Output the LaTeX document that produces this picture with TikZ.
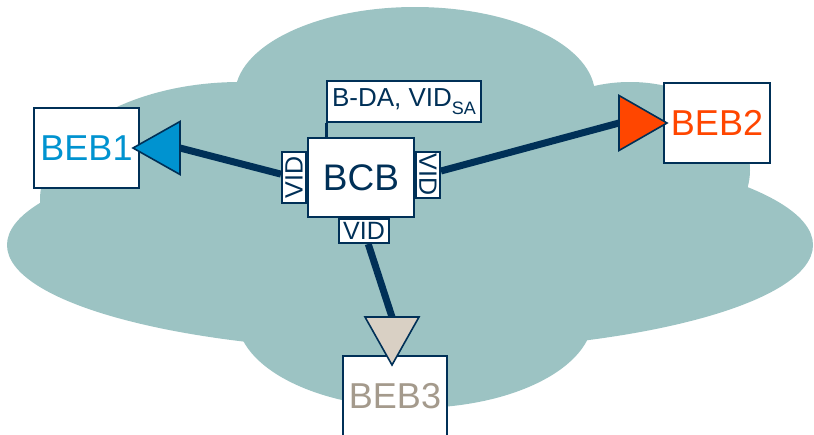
\documentclass[tikz,border=0pt]{standalone}
\usepackage{fontspec}
\setmainfont{Liberation Sans}
\usetikzlibrary{positioning}

\definecolor{navy}{RGB}{0,48,87}
\definecolor{cloudteal}{RGB}{156,195,195}
\definecolor{bebblue}{RGB}{0,147,208}
\definecolor{bebred}{RGB}{255,70,0}
\definecolor{bebgray}{RGB}{164,154,140}
\definecolor{bebsand}{RGB}{217,208,196}

\begin{document}
\begin{tikzpicture}[x=1pt, y=-1pt,
    netbox/.style={draw=navy, line width=2pt, fill=white, inner sep=0pt, text=navy},
    bebbox/.style={netbox, minimum width=105pt, minimum height=80pt, font=\fontsize{36}{36}\selectfont},
    vidbox/.style={netbox, minimum width=51pt, minimum height=24pt, font=\fontsize{25}{25}\selectfont},
    link/.style={draw=navy, line width=7pt},
    tipmark/.style={draw=navy, line width=1.6pt, line join=miter}]

    \useasboundingbox (0,0) rectangle (814,434);

    % --- CLOUD (union of ellipses, no outline) ---
    \fill[cloudteal] (410,245) ellipse [x radius=403, y radius=106]; % main body
    \fill[cloudteal] (415,95)  ellipse [x radius=180, y radius=88];  % top lobe
    \fill[cloudteal] (240,200) ellipse [x radius=200, y radius=118]; % upper left
    \fill[cloudteal] (630,170) ellipse [x radius=120, y radius=88];  % upper right
    \fill[cloudteal] (415,317) ellipse [x radius=178, y radius=91];  % bottom lobe

    % --- CORE BRIDGE AND ITS PORTS ---
    \node[netbox, minimum width=106pt, minimum height=79pt,
          font=\fontsize{37}{37}\selectfont] (bcb) at (361,177.5) {BCB};
    \node[vidbox, rotate=90, anchor=south] (vidL) at (bcb.west) {VID};
    \node[vidbox, rotate=-90, anchor=south, minimum width=46pt] (vidR) at ([yshift=3pt]bcb.east) {VID};
    \node[vidbox, anchor=north, minimum width=50pt] (vidB) at ([xshift=3pt]bcb.south) {VID};

    % lookup key
    \node[netbox, anchor=south west, minimum width=154pt, minimum height=41pt,
          font=\fontsize{26}{26}\selectfont] (key) at ([xshift=19pt, yshift=14pt]bcb.north west)
          {B-DA, VID\raisebox{-8pt}{\fontsize{18}{18}\selectfont SA}};
    \draw[navy, line width=3pt] (key.south west) -- (key.south west |- bcb.north);

    % --- EDGE BRIDGES ---
    \node[bebbox, text=bebblue] (beb1) at (86.5,148) {BEB1};
    \node[bebbox, text=bebred, minimum width=106pt] (beb2) at (717,123) {BEB2};
    \node[bebbox, text=bebgray, minimum width=104pt] (beb3) at (395,396) {BEB3};

    % triangle apexes and base centres
    \coordinate (a1) at ([xshift=-7pt]beb1.east);
    \coordinate (t1) at ([xshift=47pt]a1);
    \coordinate (a2) at ([xshift=4pt]beb2.west);
    \coordinate (t2) at ([xshift=-48pt]a2);
    \coordinate (a3) at ([xshift=-3pt, yshift=-10pt]beb3.north);
    \coordinate (t3) at ([yshift=48pt]a3);

    % --- LINKS ---
    \draw[link] (vidL) -- (t1);
    \draw[link] (vidR) -- (t2);
    \draw[link] (vidB) -- (t3);

    % --- TRIANGLES ---
    \draw[tipmark, fill=bebblue] ([yshift=26.5pt]t1) -- ([yshift=-26.5pt]t1) -- (a1) -- cycle;
    \draw[tipmark, fill=bebred]  ([yshift=27.5pt]t2) -- ([yshift=-27.5pt]t2) -- (a2) -- cycle;
    \draw[tipmark, fill=bebsand] ([xshift=-27pt]t3) -- ([xshift=27pt]t3) -- (a3) -- cycle;

\end{tikzpicture}
\end{document}
